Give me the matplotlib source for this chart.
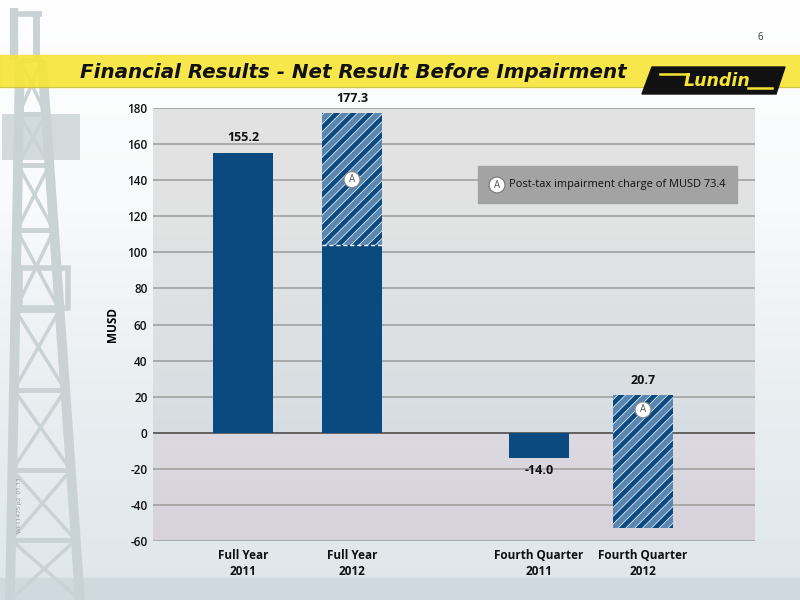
import matplotlib
matplotlib.use("Agg")
import matplotlib.pyplot as plt
import numpy as np
from matplotlib.patches import Rectangle, Polygon
from matplotlib.colors import LinearSegmentedColormap, to_rgb

# ---------------- data ----------------
categories = ["Full Year\n2011", "Full Year\n2012", "Fourth Quarter\n2011", "Fourth Quarter\n2012"]
reported = [155.2, 177.3, -14.0, 20.7]          # net result before impairment (label values)
impairment = [0.0, 73.4, 0.0, 73.4]              # post-tax impairment charge (hatched part)
yticks = [-60, -40, -20, 0, 20, 40, 60, 80, 100, 120, 140, 160, 180]
title = "Financial Results - Net Result Before Impairment"
legend_text = "Post-tax impairment charge of MUSD 73.4"

DARK = "#0b4a80"
LIGHT = "#5a87b1"

W, H = 800, 600
fig = plt.figure(figsize=(8, 6), dpi=100)

def fx(px):
    return px / W

def fy(py):
    return 1 - py / H

# ---------------- background ----------------
bg = fig.add_axes([0, 0, 1, 1], zorder=-10)
bg.set_xlim(0, W)
bg.set_ylim(H, 0)
bg.axis("off")
grad = np.linspace(0, 1, 200)[:, None] * np.ones((1, 2))
cmap_bg = LinearSegmentedColormap.from_list("bg", ["#ffffff", "#f8fafb", "#e9eef1", "#dfe7eb"])
bg.imshow(grad, extent=[0, W, H, 0], aspect="auto", cmap=cmap_bg, zorder=0)
# bottom band
bg.add_patch(Rectangle((0, 578), W, 22, color="#cfd9df", zorder=1))

# oil rig silhouette (decorative)
rig = "#c9d2d5"
def L(xs, ys, lw=4):
    bg.plot(xs, ys, color=rig, lw=lw, solid_capstyle="butt", zorder=2)
L([14, 14], [8, 60], 6)
L([36, 36], [12, 60], 5)
L([12, 42], [14, 14], 4)
L([20, 10], [60, 600], 7)
L([42, 80], [60, 600], 7)
bg.add_patch(Rectangle((2, 114), 78, 46, facecolor=rig, edgecolor="none", zorder=2, alpha=0.8))
bg.add_patch(Rectangle((20, 268), 48, 40, facecolor="none", edgecolor=rig, lw=4, zorder=2))
levels = [60, 114, 165, 230, 310, 390, 470, 540, 600]
for i in range(len(levels) - 1):
    y0, y1 = levels[i], levels[i + 1]
    xl0 = 20 - (y0 - 60) / 540 * 10
    xl1 = 20 - (y1 - 60) / 540 * 10
    xr0 = 42 + (y0 - 60) / 540 * 38
    xr1 = 42 + (y1 - 60) / 540 * 38
    L([xl0, xr1], [y0, y1], 2.5)
    L([xr0, xl1], [y0, y1], 2.5)
    L([xl0, xr0], [y0, y0], 3.5)

# yellow band
bg.add_patch(Rectangle((0, 55), W, 32, color="#f7e531", alpha=0.88, zorder=3))
bg.plot([0, W], [87, 87], color="#cfc24a", lw=0.8, zorder=3)
# Lundin logo
bg.add_patch(Polygon([[652, 67], [785, 67], [776, 94], [642, 94]], closed=True,
                     color="#111111", zorder=4))
bg.text(717, 81, "Lundin", color="#f7e531", fontsize=12.5, fontweight="bold",
        fontstyle="italic", ha="center", va="center", zorder=5, family="DejaVu Sans")
bg.plot([660, 688], [74, 74], color="#f7e531", lw=1.8, zorder=5)
bg.plot([748, 772], [88, 88], color="#f7e531", lw=1.8, zorder=5)

bg.text(80, 72, title, fontsize=14.3, fontweight="bold", fontstyle="italic",
        ha="left", va="center", color="#111111", zorder=5, family="DejaVu Sans")
bg.text(760, 38, "6", fontsize=7, ha="center", va="center", color="#333333",
        family="Open Sans")
bg.text(19, 505, "WF11475 p2  01.13", fontsize=4.5, rotation=90, ha="center",
        va="center", color="#8a9499", family="Open Sans")

# ---------------- chart axes ----------------
ax = fig.add_axes([fx(153), fy(541), fx(755) - fx(153), fy(108) - fy(541)])
unit = 106.0
x_pos = np.array([0, (352 - 243) / unit, (539 - 243) / unit, (643 - 243) / unit])
xlim = ((153 - 243) / unit, (755 - 243) / unit)
ax.set_xlim(*xlim)
ax.set_ylim(-60, 180)

# plot area gradient
vals = np.linspace(180, -60, 240)
cols = []
def mix(a, b, t):
    a, b = np.array(to_rgb(a)), np.array(to_rgb(b))
    return a + (b - a) * t
for v in vals:
    if v >= 0:
        t = 1 - v / 180
        cols.append(mix("#e3e3e3", "#d6dde2", t ** 2))
    else:
        t = -v / 60
        cols.append(mix("#dcd9e0", "#d7d2dc", t))
img = np.array(cols)[:, None, :] * np.ones((1, 2, 1))
ax.imshow(img, extent=[xlim[0], xlim[1], -60, 180], aspect="auto", zorder=0)

for s in ax.spines.values():
    s.set_visible(False)
ax.set_yticks(yticks)
ax.set_yticklabels([str(t) for t in yticks], fontsize=8.5, family="Open Sans",
                   fontweight="semibold", color="#111111")
ax.tick_params(axis="y", length=0, pad=4)
ax.set_xticks(x_pos)
ax.set_xticklabels(categories, fontsize=8.5, family="Open Sans", fontweight="bold",
                   color="#111111", linespacing=1.25)
ax.tick_params(axis="x", length=0, pad=6)
for t in yticks:
    ax.axhline(t, color="#a6a6a6" if t != 0 else "#4d4d4d", lw=1.3 if t != 0 else 1.2, zorder=1)

ax.set_ylabel("MUSD", fontsize=8.5, fontweight="bold", family="Open Sans", labelpad=6)

bw = 60 / unit
for x, r, i in zip(x_pos, reported, impairment):
    if i == 0:
        ax.bar(x, r, width=bw, color=DARK, zorder=3, linewidth=0)
    else:
        base = r - i
        if base > 0:
            ax.bar(x, base, width=bw, color=DARK, zorder=3, linewidth=0)
            ax.plot([x - bw / 2, x + bw / 2], [base, base], color="white", lw=1,
                    ls=(0, (3, 2)), zorder=5)
        bottom, height = base, i
        # hatched impairment part: light face, white hatch, dark hatch on top
        b1 = ax.bar(x, height, bottom=bottom, width=bw, color=LIGHT, edgecolor="white",
                    hatch="//", linewidth=0, zorder=3)
        b2 = ax.bar(x, height, bottom=bottom, width=bw, color="none", edgecolor=DARK,
                    hatch="//", linewidth=0, zorder=4)
        for p in b1:
            if hasattr(p, "set_hatch_linewidth"):
                p.set_hatch_linewidth(4.4)
        for p in b2:
            if hasattr(p, "set_hatch_linewidth"):
                p.set_hatch_linewidth(3.4)
        # marker A
        ymark = bottom + height - (37 if r > 100 else 8)
        ax.text(x, ymark, "A", fontsize=7, family="Open Sans", color="#555555",
                ha="center", va="center", zorder=6,
                bbox=dict(boxstyle="circle,pad=0.25", fc="white", ec="#888888", lw=0.8))

for x, r in zip(x_pos, reported):
    if r >= 0:
        ax.annotate(f"{r:.1f}", (x, r), xytext=(0, 6), textcoords="offset points",
                    ha="center", va="bottom", fontsize=9, fontweight="bold",
                    family="Open Sans", color="#111111", zorder=6)
    else:
        ax.annotate(f"{r:.1f}", (x, r), xytext=(0, -4), textcoords="offset points",
                    ha="center", va="top", fontsize=9, fontweight="bold",
                    family="Open Sans", color="#111111", zorder=6)

# legend box
bg2 = fig.add_axes([0, 0, 1, 1], zorder=5)
bg2.set_xlim(0, W)
bg2.set_ylim(H, 0)
bg2.axis("off")
bg2.add_patch(Rectangle((478, 166), 259, 37, color="#a3a3a3", zorder=1))
bg2.text(497, 185, "A", fontsize=7, family="Open Sans", color="#555555",
         ha="center", va="center", zorder=3,
         bbox=dict(boxstyle="circle,pad=0.25", fc="white", ec="#777777", lw=0.8))
bg2.text(509, 185, legend_text, fontsize=7.9, family="Open Sans", color="#111111",
         ha="left", va="center", zorder=3)

fig.savefig("out.png", dpi=100)
